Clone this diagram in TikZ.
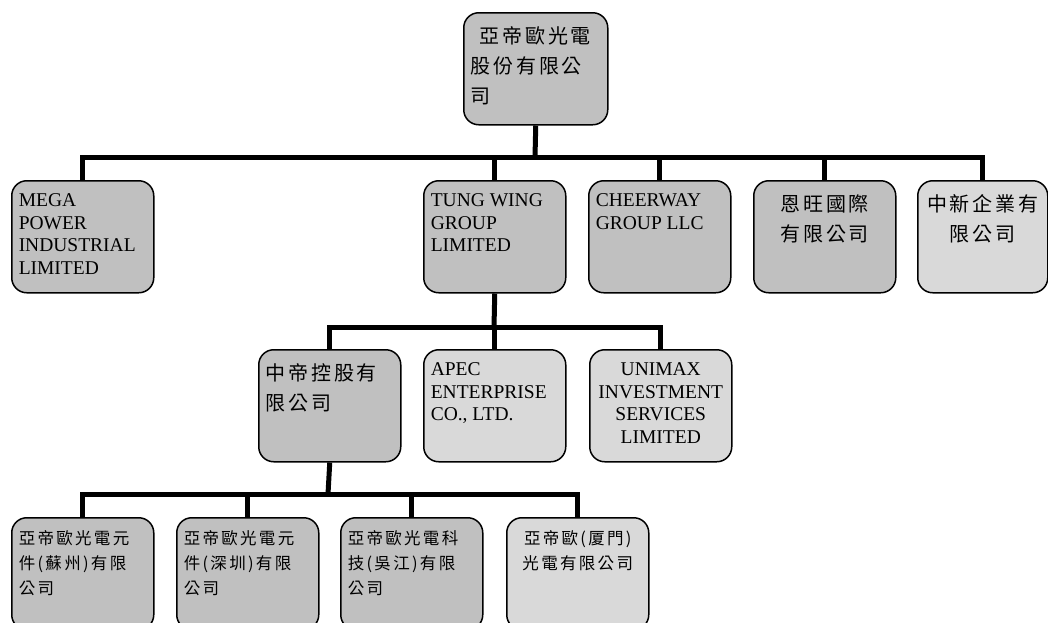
\documentclass[tikz,border=0pt]{standalone}
\usepackage{fontspec}
\setmainfont{Liberation Serif}
\newfontfamily\cjk[LetterSpace=14]{Noto Sans CJK TC}
\definecolor{boxdark}{RGB}{192,192,192}
\definecolor{boxlight}{RGB}{217,217,217}
\newcommand{\cell}[2][128pt]{\parbox[t][98pt][t]{#1}{#2}}
\newcommand{\entxt}{\fontsize{19.5}{22.5}\selectfont\rule{0pt}{19pt}}
\newcommand{\zhbig}{\cjk\fontsize{20}{30}\selectfont\rule{0pt}{24pt}}
\newcommand{\zhsmall}{\cjk\fontsize{16.5}{25}\selectfont\rule{0pt}{20pt}}
\begin{document}
\begin{tikzpicture}[x=1pt,y=-1pt]
\tikzstyle{unit}=[draw, line width=1.5pt, rounded corners=15pt, inner xsep=7pt, inner ysep=7pt, anchor=north west]
\tikzstyle{dark}=[unit, fill=boxdark]
\tikzstyle{light}=[unit, fill=boxlight]
\tikzstyle{link}=[line width=5pt]

\useasboundingbox (0,0) rectangle (1048,622);

% parent company
\node[dark] (parent) at (463,12) {\cell[130pt]{\zhbig\hspace*{9pt}亞帝歐光電\\股份有限公\\司}};

% first level
\node[dark] (mega) at (11,180) {\cell{\entxt MEGA\\POWER\\INDUSTRIAL\\LIMITED}};
\node[dark] (tung) at (423,180) {\cell{\entxt TUNG WING\\GROUP\\LIMITED}};
\node[dark] (cheer) at (588,180) {\cell{\entxt CHEERWAY\\GROUP LLC}};
\node[dark] (enwang) at (753,180) {\cell{\centering\zhbig 恩旺國際\\有限公司}};
\node[light] (zhongxin) at (917,180) {\cell[116pt]{\centering\zhbig 中新企業有\\限公司}};

% second level
\node[dark] (zhongdi) at (258,349) {\cell{\zhbig 中帝控股有\\限公司}};
\node[light] (apec) at (423,349) {\cell{\entxt APEC\\ENTERPRISE\\CO., LTD.}};
\node[light] (unimax) at (589,349) {\cell{\centering\entxt UNIMAX\\INVESTMENT\\SERVICES\\LIMITED}};

% third level
\node[dark] (suzhou) at (11,517) {\cell{\zhsmall 亞帝歐光電元\\件(蘇州)有限\\公司}};
\node[dark] (shenzhen) at (176,517) {\cell{\zhsmall 亞帝歐光電元\\件(深圳)有限\\公司}};
\node[dark] (wujiang) at (340,517) {\cell{\zhsmall 亞帝歐光電科\\技(吳江)有限\\公司}};
\node[light] (xiamen) at (506,517) {\cell{\centering\zhsmall 亞帝歐(厦門)\\光電有限公司}};

% connectors
\coordinate (bar1) at (535,157);
\coordinate (bar2) at (494,327);
\coordinate (bar3) at (328,494);

\draw[link] (parent.south) -- (bar1);
\draw[link] (mega.north) |- (bar1) -| (zhongxin.north);
\foreach \c in {tung,cheer,enwang}
  \draw[link] (\c.north) -- (\c.north |- bar1);

\draw[link] (tung.south) -- (bar2);
\draw[link] (zhongdi.north) |- (bar2) -| (unimax.north);
\draw[link] (apec.north) -- (apec.north |- bar2);

\draw[link] (zhongdi.south) -- (bar3);
\draw[link] (suzhou.north) |- (bar3) -| (xiamen.north);
\foreach \c in {shenzhen,wujiang}
  \draw[link] (\c.north) -- (\c.north |- bar3);
\end{tikzpicture}
\end{document}
